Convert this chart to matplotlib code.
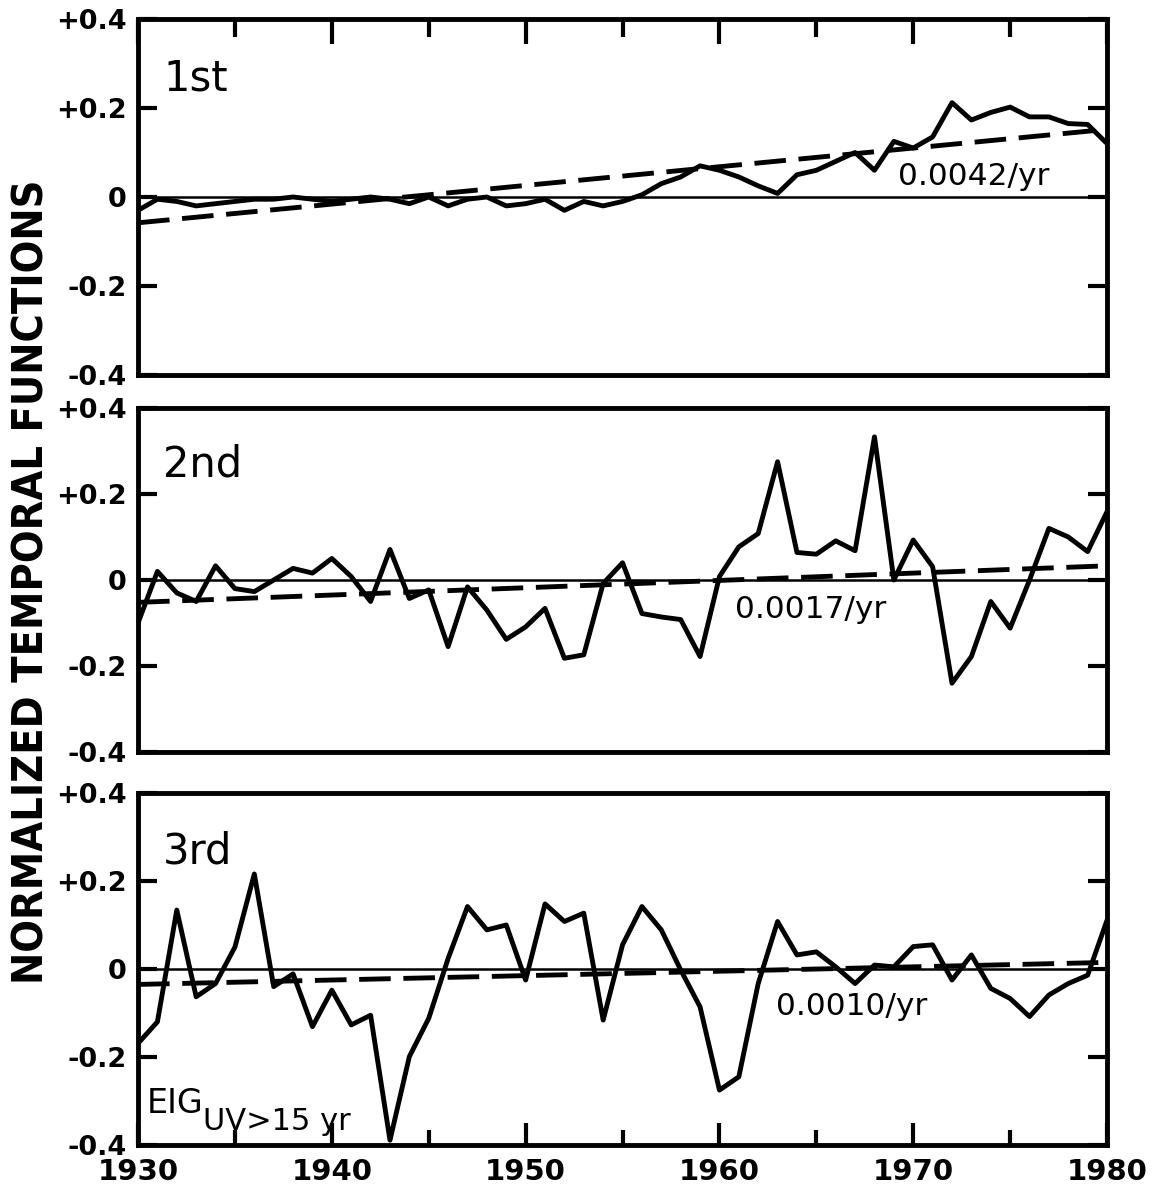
import numpy as np
import matplotlib
matplotlib.use('Agg')
import matplotlib.pyplot as plt

plt.rcParams['font.family'] = ['DejaVu Sans']

years = np.arange(1930, 1981)

# normalized temporal functions of the first three eigenvectors
eig1 = [-0.03, -0.005, -0.01, -0.02, -0.015, -0.01, -0.005, -0.005, 0.0, -0.005,
        -0.01, -0.005, 0.0, -0.005, -0.015, 0.0, -0.02, -0.005, 0.0, -0.02,
        -0.015, -0.005, -0.03, -0.01, -0.02, -0.01, 0.005, 0.03, 0.045, 0.07,
        0.06, 0.045, 0.025, 0.008, 0.05, 0.06, 0.08, 0.10, 0.06, 0.125,
        0.11, 0.135, 0.212, 0.173, 0.19, 0.202, 0.18, 0.18, 0.165, 0.163, 0.12]

eig2 = [-0.10, 0.02, -0.03, -0.05, 0.033, -0.02, -0.027, 0.0, 0.027, 0.016,
        0.05, 0.008, -0.05, 0.071, -0.043, -0.023, -0.155, -0.016, -0.07, -0.138,
        -0.109, -0.066, -0.182, -0.174, -0.008, 0.04, -0.078, -0.086, -0.092, -0.178,
        0.008, 0.077, 0.108, 0.275, 0.064, 0.06, 0.091, 0.068, 0.333, 0.0,
        0.093, 0.031, -0.24, -0.178, -0.05, -0.112, 0.0, 0.12, 0.1, 0.066, 0.159]

eig3 = [-0.169, -0.12, 0.134, -0.063, -0.033, 0.05, 0.216, -0.04, -0.011, -0.131,
        -0.048, -0.127, -0.105, -0.389, -0.199, -0.112, 0.024, 0.142, 0.089, 0.1,
        -0.025, 0.148, 0.108, 0.127, -0.116, 0.055, 0.142, 0.089, -0.002, -0.086,
        -0.275, -0.245, -0.033, 0.108, 0.032, 0.039, 0.005, -0.033, 0.009, 0.005,
        0.051, 0.055, -0.025, 0.032, -0.044, -0.067, -0.108, -0.059, -0.033, -0.014, 0.111]

series = [eig1, eig2, eig3]
names = ['1st', '2nd', '3rd']

# linear trends (per year) and their 1930 values
slopes = [0.0042, 0.0017, 0.0010]
starts = [-0.058, -0.052, -0.035]
slope_pos = [(1969.2, 0.027), (1960.8, -0.088), (1962.9, -0.105)]

yticks = [-0.4, -0.2, 0.0, 0.2, 0.4]
ytick_labels = ['-0.4', '-0.2', '0', '+0.2', '+0.4']
xticks = [1930, 1940, 1950, 1960, 1970, 1980]

fig = plt.figure(figsize=(11.58, 11.95), dpi=100)

rects = [[0.1192, 0.6862, 0.8368, 0.2979],
         [0.1192, 0.3707, 0.8368, 0.2879],
         [0.1192, 0.0418, 0.8368, 0.2946]]

lw = 3.5
for i in range(3):
    ax = fig.add_axes(rects[i])

    ax.axhline(0, color='black', lw=1.8, zorder=1)
    trend = starts[i] + slopes[i] * (years - years[0])
    ax.plot(years, trend, color='black', lw=lw, dashes=(6.5, 2.6), zorder=2)
    ax.plot(years, series[i], color='black', lw=lw, zorder=3)

    ax.set_xlim(1930, 1980)
    ax.set_ylim(-0.4, 0.4)

    for sp in ax.spines.values():
        sp.set_linewidth(3.5)

    ax.set_yticks(yticks)
    ax.set_yticklabels(ytick_labels, fontsize=19.5, fontweight='bold')
    ax.tick_params(axis='y', direction='in', length=14, width=3,
                   left=True, right=True, pad=8)

    ax.set_xticks(xticks)
    ax.set_xticks(np.arange(1935, 1980, 10), minor=True)
    if i == 0:
        ax.tick_params(axis='x', which='both', direction='in', width=3,
                       top=True, bottom=False, labelbottom=False)
        ax.tick_params(axis='x', which='major', length=18)
        ax.tick_params(axis='x', which='minor', length=13)
    elif i == 1:
        ax.tick_params(axis='x', which='both', top=False, bottom=False,
                       labelbottom=False)
    else:
        ax.tick_params(axis='x', which='both', direction='in', width=3,
                       top=False, bottom=True, pad=9, labelsize=21)
        ax.tick_params(axis='x', which='major', length=16)
        ax.tick_params(axis='x', which='minor', length=11)
        for lab in ax.get_xticklabels():
            lab.set_fontweight('bold')

    ax.text(0.026, 0.80, names[i], transform=ax.transAxes, fontsize=30,
            va='baseline', ha='left')
    sx, sy = slope_pos[i]
    ax.text(sx, sy, f'{slopes[i]:.4f}/yr', fontsize=22.5, va='baseline', ha='left')

ax.text(0.009, 0.091, 'EIG', transform=ax.transAxes, fontsize=24,
        va='baseline', ha='left')
ax.text(0.067, 0.043, 'UV>15 yr', transform=ax.transAxes, fontsize=22,
        va='baseline', ha='left')

fig.text(0.027, 0.513, 'NORMALIZED TEMPORAL FUNCTIONS', rotation=90,
         ha='center', va='center', fontsize=31, fontweight='bold',
         fontstretch='condensed')

fig.savefig('out.png', dpi=100)
